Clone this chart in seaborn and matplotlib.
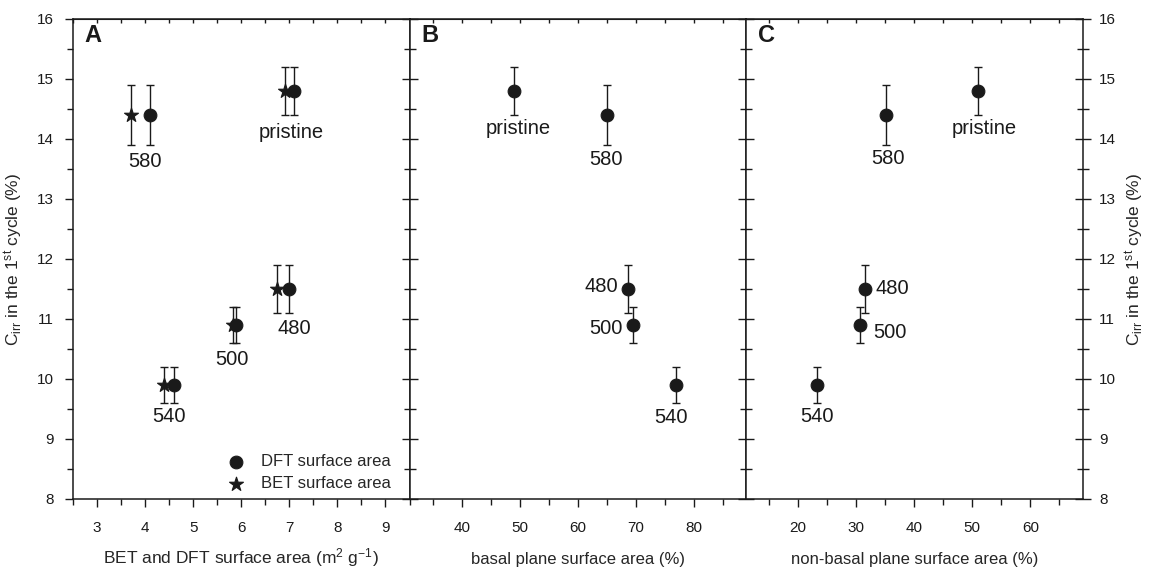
import numpy as np
import pandas as pd
import matplotlib
matplotlib.use("Agg")
import matplotlib.pyplot as plt
from matplotlib.ticker import MultipleLocator
import seaborn as sns

# sample labels and capacity loss
samples = ['580', 'pristine', '540', '500', '480']
c_irr = [14.4, 14.8, 9.9, 10.9, 11.5]
c_err = [0.5, 0.4, 0.3, 0.3, 0.4]

# panel A: surface areas (m2/g)
dft_area = [4.1, 7.1, 4.6, 5.9, 7.0]
bet_area = [3.7, 6.9, 4.4, 5.83, 6.75]
# panel B / C: basal and non-basal fraction (%)
basal = [65.0, 49.0, 76.9, 69.6, 68.7]
nonbasal = [35.2, 51.0, 23.3, 30.7, 31.5]

df = pd.DataFrame({'sample': samples, 'c_irr': c_irr, 'err': c_err,
                   'dft': dft_area, 'bet': bet_area,
                   'basal': basal, 'nonbasal': nonbasal})

sns.set_style("ticks")
plt.rcParams['font.family'] = ['Liberation Sans', 'DejaVu Sans']
plt.rcParams['mathtext.fontset'] = 'custom'
plt.rcParams['mathtext.rm'] = 'Liberation Sans'
plt.rcParams['mathtext.it'] = 'Liberation Sans:italic'

ink = '#1a1a1a'
fig = plt.figure(figsize=(11.52, 5.71), dpi=100)
x0, w, b, h = 73 / 1152, 336.5 / 1152, 72 / 571, 480 / 571
axA = fig.add_axes([x0, b, w, h])
axB = fig.add_axes([x0 + w, b, w, h], sharey=axA)
axC = fig.add_axes([x0 + 2 * w, b, w, h], sharey=axA)

ylab = r'C$_{\rm irr}$ in the 1$^{\rm st}$ cycle (%)'


def errs(ax, xcol):
    ax.errorbar(df[xcol], df['c_irr'], yerr=df['err'], fmt='none',
                ecolor=ink, elinewidth=1, capsize=3.2, capthick=1, zorder=2)


# panel A
errs(axA, 'bet')
errs(axA, 'dft')
sns.scatterplot(data=df, x='dft', y='c_irr', ax=axA, marker='o', s=85,
                color=ink, edgecolor=ink, zorder=3, label='DFT surface area')
sns.scatterplot(data=df, x='bet', y='c_irr', ax=axA, marker='*', s=110,
                color=ink, edgecolor=ink, zorder=3, label='BET surface area')
axA.set_xlim(2.5, 9.5)
axA.set_xticks(np.arange(3, 10, 1))
axA.xaxis.set_minor_locator(MultipleLocator(0.5))
axA.set_xlabel(r'BET and DFT surface area (m$^{2}$ g$^{-1}$)', fontsize=12.5, labelpad=8)
axA.set_ylabel(ylab, fontsize=12.5, labelpad=8)
leg = axA.legend(loc='lower right', frameon=False, fontsize=12,
                 handletextpad=0.5, borderaxespad=0.2, labelspacing=0.45,
                 bbox_to_anchor=(0.975, -0.005))
labA = {'580': (4.0, 13.62, 'center'), 'pristine': (7.05, 14.1, 'center'),
        '480': (7.1, 10.85, 'center'), '500': (5.8, 10.33, 'center'),
        '540': (4.5, 9.38, 'center')}

# panel B
errs(axB, 'basal')
sns.scatterplot(data=df, x='basal', y='c_irr', ax=axB, marker='o', s=85,
                color=ink, edgecolor=ink, zorder=3, legend=False)
axB.set_xlim(31, 89)
axB.set_xticks(np.arange(40, 81, 10))
axB.xaxis.set_minor_locator(MultipleLocator(5))
axB.set_xlabel('basal plane surface area (%)', fontsize=12, labelpad=12)
labB = {'pristine': (49.7, 14.17, 'center'), '580': (64.8, 13.66, 'center'),
        '480': (67.0, 11.55, 'right'), '500': (67.8, 10.85, 'right'),
        '540': (76.0, 9.36, 'center')}

# panel C
errs(axC, 'nonbasal')
sns.scatterplot(data=df, x='nonbasal', y='c_irr', ax=axC, marker='o', s=85,
                color=ink, edgecolor=ink, zorder=3, legend=False)
axC.set_xlim(11, 69)
axC.set_xticks(np.arange(20, 61, 10))
axC.xaxis.set_minor_locator(MultipleLocator(5))
axC.set_xlabel('non-basal plane surface area (%)', fontsize=12, labelpad=12)
labC = {'580': (35.5, 13.68, 'center'), 'pristine': (52.0, 14.17, 'center'),
        '480': (33.3, 11.5, 'left'), '500': (33.0, 10.78, 'left'),
        '540': (23.3, 9.38, 'center')}

for ax, labs in [(axA, labA), (axB, labB), (axC, labC)]:
    for s, (lx, ly, ha) in labs.items():
        ax.text(lx, ly, s, fontsize=14.5, ha=ha, va='center', color=ink)

for ax, letter in [(axA, 'A'), (axB, 'B'), (axC, 'C')]:
    ax.set_ylim(8, 16)
    ax.yaxis.set_major_locator(MultipleLocator(1))
    ax.yaxis.set_minor_locator(MultipleLocator(0.5))
    ax.text(0.035, 0.99, letter, transform=ax.transAxes, fontsize=17,
            fontweight='bold', va='top', ha='left', color=ink)
    for sp in ax.spines.values():
        sp.set_visible(True)
        sp.set_color(ink)
        sp.set_linewidth(1.1)
    ax.tick_params(axis='x', which='both', direction='out', colors=ink,
                   labelsize=11, pad=10)
    ax.tick_params(axis='x', which='major', length=6, width=1)
    ax.tick_params(axis='x', which='minor', length=4, width=1)
    ax.tick_params(axis='y', which='both', direction='inout', colors=ink,
                   labelsize=11, left=True, right=True, width=1, pad=8)
    ax.tick_params(axis='y', which='major', length=12)
    ax.tick_params(axis='y', which='minor', length=8)
    # small inward ticks along the top edge
    top = ax.secondary_xaxis('top')
    top.set_xticks(ax.get_xticks(), labels=[])
    top.xaxis.set_minor_locator(ax.xaxis.get_minor_locator())
    top.tick_params(which='both', direction='in', length=3, width=1, colors=ink)

axA.tick_params(axis='y', which='both', direction='out', right=False, pad=8)
axA.tick_params(axis='y', which='major', length=6)
axA.tick_params(axis='y', which='minor', length=4)
axB.tick_params(axis='y', which='both', labelleft=False, right=False)
axC.tick_params(axis='y', which='both', labelleft=False, labelright=True, pad=6)
axB.set_ylabel('')
axC.set_ylabel(ylab, fontsize=12.5, labelpad=5)
axC.yaxis.set_label_position('right')

fig.savefig('out.png', dpi=100)
